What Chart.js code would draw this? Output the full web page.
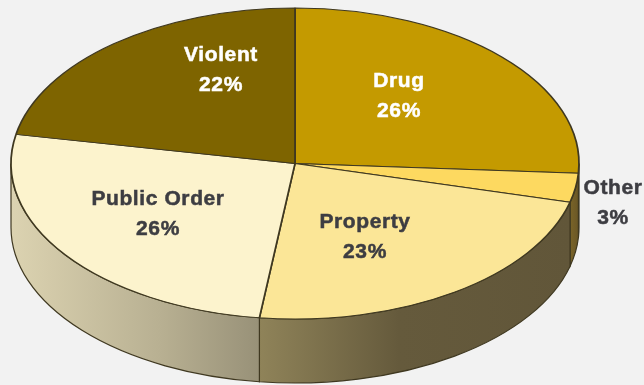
<!DOCTYPE html>
<html>
<head>
<meta charset="utf-8">
<title>Offense types</title>
<script src="https://cdn.jsdelivr.net/npm/chart.js@4/dist/chart.umd.min.js"></script>
<style>
  html, body { margin: 0; padding: 0; background: #f2f2f2; overflow: hidden; }
  canvas { display: block; }
</style>
</head>
<body>
<canvas id="chart-offenses" width="644" height="385"></canvas>
<script>
const categories = ['Drug', 'Other', 'Property', 'Public Order', 'Violent'];
const shares = [26, 3, 23, 26, 22];

const topColors = ['#c49a00', '#fdd960', '#fbe697', '#fcf3cd', '#7e6400'];
const edgeColor = '#3f3820';
// wall gradients run left to right across each slice
const wallStops = [
    [[0, '#8a7000'], [1, '#8a7000']],
    [[0, '#7a6428'], [1, '#6a5726']],
    [[0, '#8f8359'], [0.45, '#655a3c'], [1, '#615639']],
    [[0, '#dcd3b1'], [0.6, '#b8b092'], [1, '#989178']],
    [[0, '#7e6400'], [1, '#7e6400']]
];
const labelColors = ['#ffffff', '#3d3d42', '#3d3d42', '#3d3d42', '#ffffff'];
const labelSpots = [[399, 81], [613, 188], [365, 222], [158, 199], [221, 55]];

// the pie is squashed into this ellipse, the wall hangs below it
const pie = { x: 295, y: 163.5, rx: 284, ry: 155.5, depth: 64 };

const tiltedPie = {
    id: 'tiltedPie',
    beforeDatasetsDraw(chart) {
        const ctx = chart.ctx;
        const arcs = chart.getDatasetMeta(0).data;

        // front wall, only the part of each slice facing the viewer
        arcs.forEach(function (arc, i) {
            const from = Math.max(arc.startAngle, 0);
            const to = Math.min(arc.endAngle, Math.PI);
            if (to <= from) return;
            const x0 = pie.x + pie.rx * Math.cos(to);
            const x1 = pie.x + pie.rx * Math.cos(from);
            const fill = ctx.createLinearGradient(x0, 0, x1, 0);
            wallStops[i].forEach(function (s) { fill.addColorStop(s[0], s[1]); });
            ctx.beginPath();
            ctx.ellipse(pie.x, pie.y, pie.rx, pie.ry, 0, from, to);
            ctx.ellipse(pie.x, pie.y + pie.depth, pie.rx, pie.ry, 0, to, from, true);
            ctx.closePath();
            ctx.fillStyle = fill;
            ctx.fill();
            ctx.strokeStyle = edgeColor;
            ctx.lineWidth = 1.2;
            ctx.stroke();
        });

        const r = arcs[0].outerRadius;
        ctx.save();
        ctx.translate(pie.x, pie.y);
        ctx.scale(pie.rx / r, pie.ry / r);
        ctx.translate(-arcs[0].x, -arcs[0].y);
    },
    afterDatasetsDraw(chart) {
        chart.ctx.restore();
    },
    afterDraw(chart) {
        const ctx = chart.ctx;
        ctx.save();
        ctx.font = 'bold 21px "Liberation Sans", Arial, sans-serif';
        ctx.letterSpacing = '0.6px';
        ctx.textAlign = 'center';
        ctx.textBaseline = 'middle';
        ctx.lineWidth = 0.5;
        categories.forEach(function (name, i) {
            ctx.fillStyle = labelColors[i];
            ctx.strokeStyle = labelColors[i];
            ctx.fillText(name, labelSpots[i][0], labelSpots[i][1]);
            ctx.strokeText(name, labelSpots[i][0], labelSpots[i][1]);
            ctx.fillText(shares[i] + '%', labelSpots[i][0], labelSpots[i][1] + 30);
            ctx.strokeText(shares[i] + '%', labelSpots[i][0], labelSpots[i][1] + 30);
        });
        ctx.restore();
    }
};

const chartOffenses = new Chart(document.getElementById('chart-offenses').getContext('2d'), {
    type: 'pie',
    data: {
        labels: categories,
        datasets: [
            {
                data: shares,
                backgroundColor: topColors,
                borderColor: edgeColor,
                borderWidth: 1.2
            }
        ]
    },
    options: {
        responsive: false,
        animation: false,
        events: [],
        plugins: {
            legend: { display: false },
            tooltip: { enabled: false }
        }
    },
    plugins: [tiltedPie]
});
</script>
</body>
</html>
